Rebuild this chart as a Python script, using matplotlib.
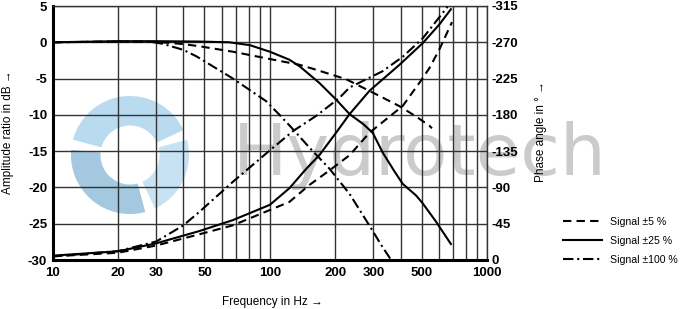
import matplotlib
matplotlib.use("Agg")
import matplotlib.pyplot as plt
from matplotlib.patches import Wedge
from matplotlib.ticker import FixedLocator, NullFormatter

plt.rcParams["axes.unicode_minus"] = False
FONT = ["Liberation Sans", "DejaVu Sans"]
plt.rcParams["font.family"] = FONT

# amplitude ratio (dB) vs frequency (Hz)
amp5_f = [10, 20, 30, 35, 40, 47.5, 67.6, 96, 137, 164, 225, 320, 395, 470, 543, 558]
amp5_db = [0.0, 0.1, 0.05, -0.1, -0.25, -0.55, -1.3, -2.2, -3.1, -3.8, -5.1, -7.4, -8.8, -10.2, -11.5, -11.85]

amp25_f = [10, 20, 30, 47.5, 65, 81, 100, 123, 137, 169, 202, 233, 270, 298, 331, 375, 409, 471, 506, 582, 682]
amp25_db = [0.0, 0.15, 0.15, 0.1, 0.0, -0.4, -1.3, -2.4, -3.3, -5.6, -7.9, -9.9, -11.3, -12.5, -15.2, -17.8, -19.5, -21.1, -22.2, -24.7, -27.8]

amp100_f = [10, 20, 28, 32, 40, 46, 67.6, 81, 96, 110, 128, 152, 188, 233, 288, 330, 362]
amp100_db = [0.0, 0.1, 0.1, -0.2, -1.05, -1.95, -5.0, -6.6, -8.1, -9.9, -12.0, -14.5, -17.4, -20.9, -25.3, -28.2, -30.0]

# phase angle (deg) vs frequency (Hz)
ph5_f = [10, 20, 30, 47.5, 67.6, 100, 123, 152, 188, 233, 288, 409, 498, 543, 603, 690]
ph5_deg = [-4.5, -9, -18, -32, -43, -62, -72, -93, -111, -130, -158, -191, -223, -238, -261, -295]

ph25_f = [10, 20, 30, 47.5, 67.6, 100, 123, 147, 169, 202, 233, 288, 395, 506, 603, 682]
ph25_deg = [-5.4, -10.8, -20.7, -36, -49.5, -68.4, -89, -113, -130, -158, -181, -210, -242, -269, -292, -311]

ph100_f = [10, 20, 30, 40, 47.5, 67.6, 100, 128, 164, 209, 233, 330, 409, 506, 658]
ph100_deg = [-4.5, -11, -23, -43, -60, -97, -136, -160, -179, -201, -214, -234, -252, -275, -314]

x_ticks = [10, 20, 30, 50, 100, 200, 300, 500, 1000]
x_minor = [40, 60, 70, 80, 90, 400, 600, 700, 800, 900]
db_ticks = [-30, -25, -20, -15, -10, -5, 0, 5]
deg_ticks = [0, -45, -90, -135, -180, -225, -270, -315]
labels = ["Signal \u00b15 %", "Signal \u00b125 %", "Signal \u00b1100 %"]

dash = (0, (4, 2.5))
dashdot = (0, (5, 1.8, 1, 1.8))
lw = 1.5

fig = plt.figure(figsize=(6.81, 3.09), dpi=100)
ax = fig.add_axes([52.7 / 681, 1 - 260 / 309, (487 - 52.7) / 681, (260 - 6) / 309])
ax.patch.set_visible(False)

# watermark logo + name, behind the grid
logo = fig.add_axes([68 / 681, 1 - 220 / 309, 124 / 681, 130 / 309], zorder=-1)
logo.set_xlim(-1.05, 1.05); logo.set_ylim(-1.05, 1.05)
logo.set_aspect("equal"); logo.axis("off")
for a1, a2, col in [(25, 165, "#a9d3ec"), (175, 285, "#8dbbd8"), (295, 15, "#b9dcf0")]:
    logo.add_patch(Wedge((0, 0), 1.0, a1, a2, width=0.5, color=col, alpha=0.8, lw=0))
fig.text(420 / 681, 1 - 155 / 309, "Hydrotech", fontsize=52, color="#cbcbcb",
         family="DejaVu Sans", ha="center", va="center", zorder=-1)

ax.set_xscale("log")
ax.set_xlim(10, 1000)
ax.set_ylim(-30, 5)
ax.xaxis.set_major_locator(FixedLocator(x_ticks))
ax.xaxis.set_minor_locator(FixedLocator(x_minor))
ax.xaxis.set_minor_formatter(NullFormatter())
ax.set_xticklabels([str(v) for v in x_ticks])
ax.set_yticks(db_ticks)
ax.grid(True, which="both", color="#333333", lw=1.0)
ax.tick_params(which="both", length=0)
ax.tick_params(axis="x", pad=5, labelsize=9.5)
ax.tick_params(axis="y", pad=4, labelsize=9.5)
for t in ax.get_xticklabels() + ax.get_yticklabels():
    t.set_fontweight("bold")
for s in ("left", "bottom"):
    ax.spines[s].set_linewidth(2.2)
for s in ("top", "right"):
    ax.spines[s].set_linewidth(1.0)
    ax.spines[s].set_color("#333333")

l5, = ax.plot(amp5_f, amp5_db, color="black", lw=lw, ls=dash)
l25, = ax.plot(amp25_f, amp25_db, color="black", lw=lw, ls="-")
l100, = ax.plot(amp100_f, amp100_db, color="black", lw=lw, ls=dashdot)

ax2 = ax.twinx()
ax2.set_ylim(0, -315)
ax2.set_yticks(deg_ticks)
ax2.tick_params(length=0, pad=3, labelsize=9.5)
for t in ax2.get_yticklabels():
    t.set_fontweight("bold")
for s in ax2.spines.values():
    s.set_visible(False)
ax2.plot(ph5_f, ph5_deg, color="black", lw=lw, ls=dash)
ax2.plot(ph25_f, ph25_deg, color="black", lw=lw, ls="-")
ax2.plot(ph100_f, ph100_deg, color="black", lw=lw, ls=dashdot)

fig.text(8 / 681, 1 - 132 / 309, "Amplitude ratio in dB \u2192", rotation=90,
         ha="center", va="center", fontsize=8.5, family=FONT)
fig.text(541 / 681, 1 - 132 / 309, "Phase angle in \u00b0 \u2192", rotation=90,
         ha="center", va="center", fontsize=8.5, family=FONT)
fig.text(272 / 681, 1 - 302 / 309, "Frequency in Hz \u2192",
         ha="center", va="center", fontsize=8.5, family=FONT)

fig.legend([l5, l25, l100], labels, loc="center left",
           bbox_to_anchor=(563 / 681, 1 - 240.7 / 309), frameon=False,
           borderpad=0, borderaxespad=0, handlelength=3.7, handletextpad=0.8,
           labelspacing=0.85, prop={"family": FONT, "size": 7.6})

fig.savefig("out.png", dpi=100)
